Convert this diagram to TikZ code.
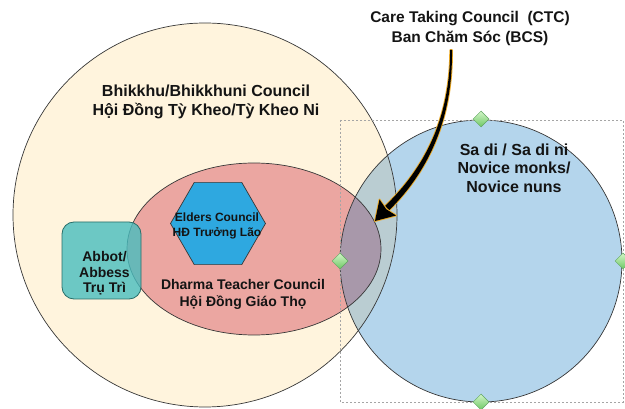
\documentclass[tikz,border=0pt]{standalone}
\usepackage{fontspec}
\setmainfont{Liberation Sans}
\usetikzlibrary{shapes.geometric}
\definecolor{beige}{RGB}{255,244,221}
\definecolor{salmon}{RGB}{235,166,161}
\definecolor{sky}{RGB}{180,213,236}
\definecolor{skybeige}{RGB}{186,205,210}
\definecolor{mauve}{RGB}{168,152,170}
\definecolor{hexblue}{RGB}{46,168,224}
\definecolor{tealbox}{RGB}{72,189,190}
\definecolor{tealedge}{RGB}{40,110,105}
\definecolor{edgegrey}{RGB}{55,55,55}
\definecolor{selgrey}{RGB}{165,165,165}
\definecolor{glow}{RGB}{235,170,40}
\definecolor{handlegreen}{RGB}{110,200,100}
\definecolor{handlelight}{RGB}{210,245,200}
\definecolor{handleedge}{RGB}{95,165,95}
\definecolor{inktext}{RGB}{20,20,20}
\tikzset{
  outline/.style={draw=edgegrey, line width=0.7pt},
  label/.style={font=\bfseries, align=center, inner sep=0pt, text=inktext},
  handle/.style={diamond, minimum size=16pt, inner sep=0pt, draw=handleedge, line width=0.5pt, top color=handlelight, bottom color=handlegreen},
}
\begin{document}
\begin{tikzpicture}[x=1pt,y=-1pt]
\useasboundingbox (0,0) rectangle (625,409);
% fills
\fill[beige] (205,215) circle [radius=192pt];
\fill[salmon] (254,249) ellipse [x radius=127pt, y radius=86pt];
\fill[sky] (481,261) circle [radius=141pt];
\begin{scope}
  \clip (481,261) circle [radius=141pt];
  \fill[skybeige] (205,215) circle [radius=192pt];
  \fill[mauve] (254,249) ellipse [x radius=127pt, y radius=86pt];
\end{scope}
% outlines
\draw[outline] (205,215) circle [radius=192pt];
\draw[outline] (254,249) ellipse [x radius=127pt, y radius=86pt];
\draw[outline] (481,261) circle [radius=141pt];
% elders hexagon
\node[regular polygon, regular polygon sides=6, minimum size=95pt, inner sep=0pt, fill=hexblue, draw=edgegrey, line width=0.7pt] (elders) at (218,223.5) {};
% abbot box
\node[rectangle, rounded corners=12pt, minimum width=79pt, minimum height=77pt, fill=tealbox, fill opacity=0.8, draw=tealedge, line width=0.8pt] (abbot) at (101.5,260.5) {};
% selection box and handles
\draw[selgrey, line width=0.8pt, dash pattern=on 2pt off 2pt] (340,120) rectangle (623,402);
\node[handle] (htop) at (481,119) {};
\node[handle] (hleft) at (340,261) {};
\node[handle] (hright) at (623,261) {};
\node[handle] (hbottom) at (481,402) {};
% texts
\node[label, font=\bfseries\fontsize{15.5}{20}\selectfont] (ctc) at (470,28) {Care Taking Council\ \ (CTC)\\Ban Chăm Sóc (BCS)};
\node[label, font=\bfseries\fontsize{16}{18.5}\selectfont] (bhik) at (206,102) {Bhikkhu/Bhikkhuni Council\\Hội Đồng Tỳ Kheo/Tỳ Kheo Ni};
\node[label, font=\bfseries\fontsize{16}{18.5}\selectfont] (sadi) at (514,168) {Sa di / Sa di ni\\Novice monks/\\Novice nuns};
\node[label, font=\bfseries\fontsize{14}{17}\selectfont] (dharma) at (243,294.5) {Dharma Teacher Council\\Hội Đồng Giáo Thọ};
\node[label, font=\bfseries\fontsize{14}{15.5}\selectfont] (abbottext) at (104.5,273.5) {Abbot/\\Abbess\\Trụ Trì};
\node[label, font=\bfseries\fontsize{12}{15}\selectfont] (elderstext) at (217,225.5) {Elders Council\\HĐ Trưởng Lão};
% tapered arrow from CTC label into the overlap
\coordinate (ctcfrom) at (451,50);
\coordinate (ctcto) at (375,221);
\fill[black, preaction={draw=glow, line width=1.8pt, line join=round}]
  (450.2,50) .. controls (450,120) and (423.5,169) .. (385,206)
  -- (389.2,210.2) .. controls (427.5,172) and (452.8,121) .. (452,50) -- cycle;
\fill[black, preaction={draw=glow, line width=1.8pt, line join=round}]
  (ctcto) -- (379.5,199.5) -- (386.2,209.2) -- (396,215.5) -- cycle;
\end{tikzpicture}
\end{document}
